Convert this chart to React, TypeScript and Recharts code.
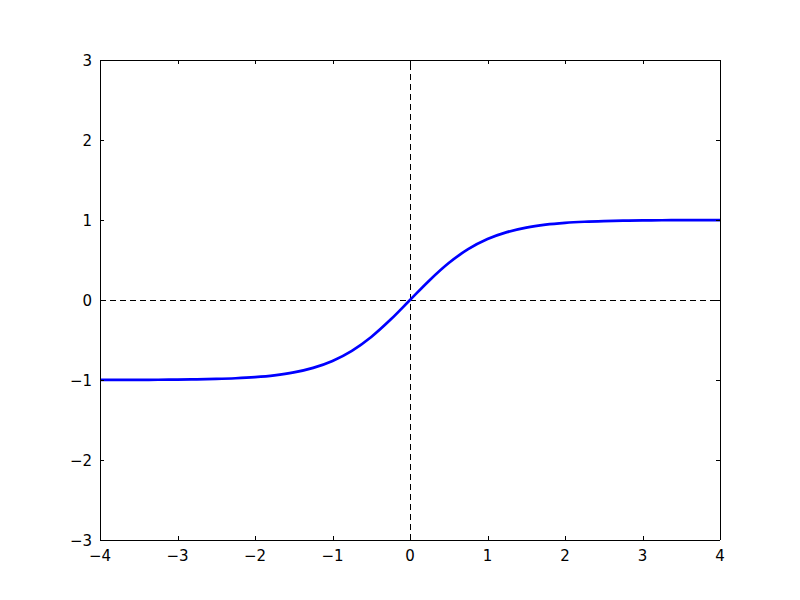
import React from "react";
import { LineChart, Line, XAxis, YAxis, ReferenceLine } from "recharts";

const xValues = [-4, -3.75, -3.5, -3.25, -3, -2.75, -2.5, -2.25, -2, -1.75, -1.5, -1.25, -1, -0.75, -0.5, -0.25, 0, 0.25, 0.5, 0.75, 1, 1.25, 1.5, 1.75, 2, 2.25, 2.5, 2.75, 3, 3.25, 3.5, 3.75, 4];
const yValues = [-0.9993, -0.9989, -0.9982, -0.997, -0.9951, -0.9919, -0.9866, -0.978, -0.964, -0.9414, -0.9051, -0.8483, -0.7616, -0.6351, -0.4621, -0.2449, 0, 0.2449, 0.4621, 0.6351, 0.7616, 0.8483, 0.9051, 0.9414, 0.964, 0.978, 0.9866, 0.9919, 0.9951, 0.997, 0.9982, 0.9989, 0.9993];
const xTicks = [-4, -3, -2, -1, 0, 1, 2, 3, 4];
const yTicks = [-3, -2, -1, 0, 1, 2, 3];

const data = xValues.map((x, i) => ({ x, y: yValues[i] }));

const fmt = (v: number) => (v < 0 ? "\u2212" + Math.abs(v) : String(v));
const FONT = "DejaVu Sans";
const c = (v: number) => Math.round(v) + 0.5;

const BottomTick = (props: any) => {
  const { x, y, payload } = props;
  return (
    <g>
      <line x1={c(x)} y1={y} x2={c(x)} y2={y - 4} stroke="#000" strokeWidth={1} />
      <text x={x} y={y + 21} textAnchor="middle" fontFamily={FONT} fontSize={15} fill="#000">
        {fmt(payload.value)}
      </text>
    </g>
  );
};
const TopTick = (props: any) => {
  const { x, y } = props;
  return <line x1={c(x)} y1={y} x2={c(x)} y2={y + 4} stroke="#000" strokeWidth={1} />;
};
const LeftTick = (props: any) => {
  const { x, y, payload } = props;
  return (
    <g>
      <line x1={x} y1={c(y)} x2={x + 4} y2={c(y)} stroke="#000" strokeWidth={1} />
      <text x={x - 8} y={y + 5.5} textAnchor="end" fontFamily={FONT} fontSize={15} fill="#000">
        {fmt(payload.value)}
      </text>
    </g>
  );
};
const RightTick = (props: any) => {
  const { x, y } = props;
  return <line x1={x} y1={c(y)} x2={x - 4} y2={c(y)} stroke="#000" strokeWidth={1} />;
};

const CrispLine = (dash?: string) => (props: any) => {
  const { x1, y1, x2, y2 } = props;
  const vertical = Math.abs(x1 - x2) < 0.01;
  return (
    <line
      x1={vertical ? c(x1) : x1}
      x2={vertical ? c(x2) : x2}
      y1={vertical ? y1 : c(y1)}
      y2={vertical ? y2 : c(y2)}
      stroke="#000"
      strokeWidth={1}
      strokeDasharray={dash}
    />
  );
};

export default function App() {
  return (
    <div style={{ position: "absolute", left: 0, top: 0, width: 800, height: 600, background: "#fff" }}>
      <LineChart width={800} height={600} data={data} margin={{ top: 30, right: 20, bottom: 30, left: 40 }}>
        <XAxis xAxisId="b" dataKey="x" type="number" domain={[-4, 4]} ticks={xTicks} orientation="bottom" height={30}
          tickSize={0} tickMargin={0} tick={<BottomTick />} tickLine={false} axisLine={false} allowDataOverflow />
        <XAxis xAxisId="t" dataKey="x" type="number" domain={[-4, 4]} ticks={xTicks} orientation="top" height={30}
          tickSize={0} tickMargin={0} tick={<TopTick />} tickLine={false} axisLine={false} allowDataOverflow />
        <YAxis yAxisId="l" type="number" domain={[-3, 3]} ticks={yTicks} orientation="left" width={60}
          tickSize={0} tickMargin={0} tick={<LeftTick />} tickLine={false} axisLine={false} allowDataOverflow />
        <YAxis yAxisId="r" type="number" domain={[-3, 3]} ticks={yTicks} orientation="right" width={60}
          tickSize={0} tickMargin={0} tick={<RightTick />} tickLine={false} axisLine={false} allowDataOverflow />
        <ReferenceLine xAxisId="b" yAxisId="l" x={0} shape={CrispLine("6 4")} />
        <ReferenceLine xAxisId="b" yAxisId="l" y={0} shape={CrispLine("6 4")} />
        <Line xAxisId="b" yAxisId="l" dataKey="y" type="monotone" stroke="#0000ff" strokeWidth={2.7} dot={false} isAnimationActive={false} />
        <ReferenceLine xAxisId="b" yAxisId="l" x={-4} shape={CrispLine()} />
        <ReferenceLine xAxisId="b" yAxisId="l" x={4} shape={CrispLine()} />
        <ReferenceLine xAxisId="b" yAxisId="l" y={-3} shape={CrispLine()} />
        <ReferenceLine xAxisId="b" yAxisId="l" y={3} shape={CrispLine()} />
      </LineChart>
    </div>
  );
}
